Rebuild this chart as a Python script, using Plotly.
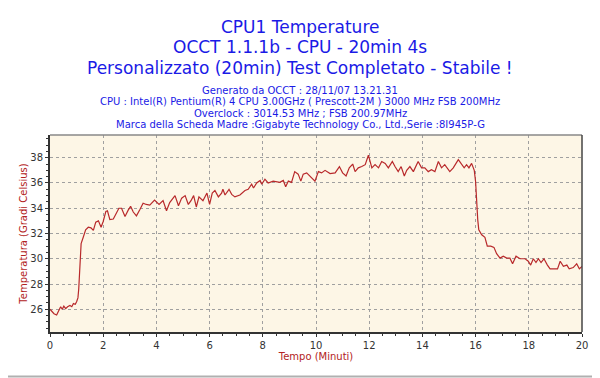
import plotly.graph_objects as go

time_min = [0.00, 0.08, 0.15, 0.25, 0.34, 0.40, 0.46, 0.52, 0.59, 0.66, 0.75, 0.82, 0.88, 0.95,
            1.00, 1.05, 1.08, 1.11, 1.14, 1.17, 1.25, 1.34, 1.44, 1.54, 1.63, 1.72, 1.82, 1.92,
            2.00, 2.10, 2.16, 2.25, 2.38, 2.48, 2.59, 2.69, 2.82, 2.94, 3.03, 3.13, 3.25, 3.38,
            3.50, 3.62, 3.75, 3.93, 4.10, 4.25, 4.38, 4.50, 4.70, 4.83, 4.95, 5.08, 5.20, 5.30,
            5.40, 5.50, 5.60, 5.75, 5.90, 6.00, 6.10, 6.20, 6.33, 6.45, 6.50, 6.58, 6.73, 6.83,
            6.95, 7.14, 7.33, 7.45, 7.58, 7.65, 7.77, 7.90, 7.96, 8.08, 8.20, 8.39, 8.64, 8.77,
            8.86, 8.96, 9.08, 9.20, 9.33, 9.43, 9.52, 9.65, 9.77, 9.96, 10.09, 10.21, 10.34,
            10.53, 10.72, 10.88, 11.00, 11.13, 11.25, 11.38, 11.47, 11.59, 11.72, 11.85, 11.97,
            12.10, 12.22, 12.35, 12.47, 12.60, 12.72, 12.87, 12.97, 13.09, 13.20, 13.32, 13.41,
            13.53, 13.66, 13.84, 13.97, 14.09, 14.22, 14.34, 14.47, 14.60, 14.72, 14.84, 15.03,
            15.16, 15.35, 15.47, 15.57, 15.66, 15.75, 15.85, 15.95, 16.00, 16.04, 16.08, 16.12,
            16.23, 16.35, 16.44, 16.57, 16.69, 16.79, 16.92, 17.04, 17.17, 17.29, 17.39, 17.52,
            17.67, 17.86, 17.98, 18.07, 18.17, 18.27, 18.36, 18.46, 18.57, 18.70, 18.80, 18.95,
            19.08, 19.18, 19.30, 19.43, 19.52, 19.67, 19.80, 19.90, 20.00]

temp_c = [26.0, 25.8, 25.65, 25.55, 25.95, 26.2, 26.0, 26.25, 26.05, 26.2, 26.3, 26.2, 26.45, 26.4,
          26.6, 26.9, 27.6, 28.8, 30.6, 31.2, 31.7, 32.3, 32.5, 32.45, 32.25, 32.9, 33.0, 32.5,
          32.95, 33.75, 33.8, 33.1, 33.15, 33.6, 34.0, 34.0, 33.35, 33.85, 34.15, 33.7, 33.4, 33.9,
          34.4, 34.3, 34.25, 34.65, 34.3, 34.6, 33.8, 34.45, 35.0, 34.2, 34.8, 35.0, 34.3, 34.6,
          35.0, 34.1, 34.9, 34.6, 35.2, 34.3, 35.2, 35.4, 34.9, 35.2, 35.5, 35.05, 35.5, 35.1,
          34.9, 35.05, 35.4, 35.5, 35.9, 35.6, 36.0, 36.2, 35.9, 36.3, 36.0, 36.15, 36.05, 36.2,
          35.7, 36.15, 36.05, 36.9, 36.7, 36.15, 36.7, 36.8, 36.55, 36.15, 36.9, 36.8, 37.0,
          36.75, 36.8, 37.3, 36.8, 36.55, 37.2, 37.5, 36.9, 37.2, 37.3, 37.45, 38.2,
          37.2, 37.45, 37.2, 37.7, 37.55, 37.2, 37.7, 37.3, 36.9, 37.3, 36.55, 37.0,
          37.3, 36.9, 37.7, 37.2, 37.2, 36.9, 37.05, 36.9, 37.7, 37.2, 37.45, 36.9,
          37.2, 37.85, 37.45, 37.2, 37.45, 37.2, 37.55, 37.0, 36.1, 34.1, 33.1, 32.3,
          31.9, 31.7, 31.0, 31.0, 30.9, 30.4, 30.05, 30.2, 30.05, 30.05, 29.6, 30.2,
          30.0, 30.0, 29.8, 29.5, 30.0, 29.7, 30.0, 29.7, 30.0, 29.5, 29.2, 29.2,
          29.2, 29.8, 29.4, 29.5, 29.2, 29.3, 29.6, 29.2, 29.4]

x_ticks = [0, 2, 4, 6, 8, 10, 12, 14, 16, 18, 20]
y_ticks = [26, 28, 30, 32, 34, 36, 38]

title_lines = ["CPU1 Temperature",
               "OCCT 1.1.1b - CPU - 20min 4s",
               "Personalizzato (20min) Test Completato - Stabile !"]
info_lines = ["Generato da OCCT : 28/11/07 13.21.31",
              "CPU : Intel(R) Pentium(R) 4 CPU 3.00GHz ( Prescott-2M ) 3000 MHz FSB 200MHz",
              "Overclock : 3014.53 MHz ; FSB 200.97MHz",
              "Marca della Scheda Madre :Gigabyte Technology Co., Ltd.,Serie :8I945P-G"]

FONT = "DejaVu Sans"
BLUE = "#1a1ae6"
RED = "#b22222"
TX = (300 - 50) / 531.7  # page centre in plot-paper units

fig = go.Figure()
fig.add_trace(go.Scatter(x=time_min, y=temp_c, mode="lines",
                         line=dict(color="#b8292b", width=1.2), hoverinfo="skip"))

annotations = []
for txt, ys in zip(title_lines, [108, 88, 67]):
    annotations.append(dict(text=txt, xref="paper", yref="paper", x=TX, y=1,
                            xanchor="center", yanchor="middle", yshift=ys, showarrow=False,
                            font=dict(family=FONT, size=17, color=BLUE)))
for txt, ys in zip(info_lines, [45, 33.5, 22, 10.5]):
    annotations.append(dict(text=txt, xref="paper", yref="paper", x=TX, y=1,
                            xanchor="center", yanchor="middle", yshift=ys, showarrow=False,
                            font=dict(family=FONT, size=10, color=BLUE)))

# the page body adds an 8px offset, so margins are reduced by 8px on left/top
fig.update_layout(
    width=600, height=378,
    margin=dict(l=42, r=26, t=127, b=54, autoexpand=False),
    paper_bgcolor="white", plot_bgcolor="#fdf6e6",
    showlegend=False,
    font=dict(family=FONT, size=10, color="#333333"),
    annotations=annotations,
    shapes=[
        dict(type="line", xref="paper", yref="paper", x0=0, x1=1, y0=1, y1=1,
             line=dict(color="#888888", width=1.5)),
        dict(type="line", xref="paper", yref="paper", x0=1, x1=1, y0=0, y1=1,
             line=dict(color="#444444", width=1.5)),
        dict(type="line", xref="paper", yref="paper", x0=1.027, x1=1.027, y0=-0.23, y1=1.69,
             line=dict(color="#b0b0b0", width=2)),
        dict(type="line", xref="paper", yref="paper", x0=-0.1, x1=1.03, y0=-0.226, y1=-0.226,
             line=dict(color="#b0b0b0", width=2)),
    ],
)

fig.update_xaxes(range=[0, 20], tickvals=x_ticks, ticktext=[str(v) for v in x_ticks],
                 automargin=False,
                 showline=True, linecolor="#333333", linewidth=2,
                 ticks="outside", ticklen=3, tickcolor="#333333",
                 minor=dict(dtick=0.5, ticks="outside", ticklen=2, tickcolor="#333333", showgrid=False),
                 showgrid=True, gridcolor="#a0a0a0", griddash="3px,3px", gridwidth=1,
                 zeroline=False, tickfont=dict(size=10, color="#333333"),
                 title=dict(text="Tempo (Minuti)", font=dict(size=10, color=RED), standoff=2))
fig.update_yaxes(range=[24.2, 39.8], tickvals=y_ticks, ticktext=[str(v) for v in y_ticks],
                 automargin=False,
                 showline=True, linecolor="#333333", linewidth=2,
                 ticks="outside", ticklen=3, tickcolor="#333333",
                 minor=dict(dtick=0.5, ticks="outside", ticklen=2, tickcolor="#333333", showgrid=False),
                 showgrid=True, gridcolor="#a0a0a0", griddash="3px,3px", gridwidth=1,
                 zeroline=False, tickfont=dict(size=10, color="#333333"),
                 title=dict(text="Temperatura (Gradi Celsius)", font=dict(size=10, color=RED), standoff=1))

fig.write_html("out.html")
